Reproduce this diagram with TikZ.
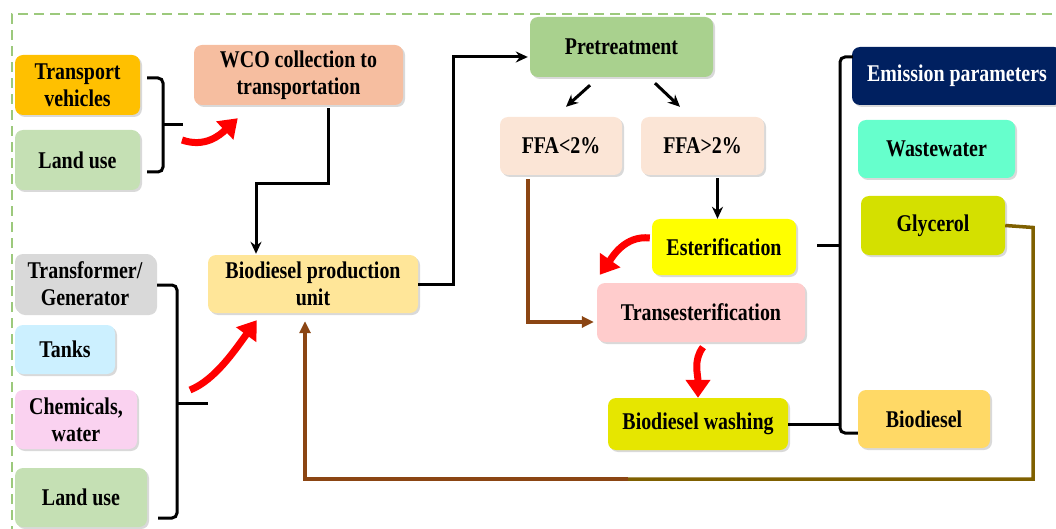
\documentclass[tikz,border=0pt]{standalone}
\usepackage{fontspec}
\setmainfont{Liberation Serif}[FakeStretch=0.83]
\usetikzlibrary{arrows.meta,shadows,calc}

\definecolor{cOrange}{HTML}{FFC000}
\definecolor{cLand}{HTML}{C5E0B4}
\definecolor{cWco}{HTML}{F6BEA0}
\definecolor{cPre}{HTML}{A9D18E}
\definecolor{cFfa}{HTML}{FBE5D6}
\definecolor{cEst}{HTML}{FFFF00}
\definecolor{cTrans}{HTML}{FFCCCC}
\definecolor{cWash}{HTML}{E6E600}
\definecolor{cEmis}{HTML}{002060}
\definecolor{cWaste}{HTML}{66FFCC}
\definecolor{cGly}{HTML}{D4E000}
\definecolor{cBio}{HTML}{FFD966}
\definecolor{cUnit}{HTML}{FFE699}
\definecolor{cGrey}{HTML}{D9D9D9}
\definecolor{cTank}{HTML}{CCF0FF}
\definecolor{cChem}{HTML}{FAD2F0}
\definecolor{cBrown}{HTML}{8B4513}
\definecolor{cOlive}{HTML}{7F6000}
\definecolor{cFrame}{HTML}{9CC97C}

\tikzset{
  box/.style={rounded corners=8pt, align=center, inner sep=2pt,
    font=\fontsize{24}{27}\selectfont\bfseries,
    drop shadow={shadow xshift=2pt, shadow yshift=-2pt, opacity=0.3}},
  brace/.style={line width=3pt, rounded corners=5pt},
  flow/.style={line width=3pt, ->},
  back/.style={line width=3.5pt},
  redarrow/.style={red, line width=7pt, -{Triangle[length=18pt,width=24pt]}},
}

\begin{document}
\begin{tikzpicture}[x=1pt, y=-1pt, >={Stealth[length=12pt,width=11pt]}]
  \useasboundingbox (0,0) rectangle (1056,529);
  \begin{scope}
    \clip (0,0) rectangle (1056,529);
    \draw[cFrame, line width=1.5pt, dash pattern=on 10pt off 6pt] (12,600) -- (12,14) -- (1100,14);
  \end{scope}

  % left inputs
  \node[box, fill=cOrange, minimum width=125pt, minimum height=60pt] (tv) at (77.5,85) {Transport\\vehicles};
  \node[box, fill=cLand, minimum width=125pt, minimum height=60pt] (lu1) at (77.5,160) {Land use};
  \node[box, fill=cGrey, minimum width=140pt, minimum height=59pt] (tg) at (85,283.5) {Transformer/\\Generator};
  \node[box, fill=cTank, minimum width=100pt, minimum height=49pt] (tanks) at (65,349.5) {Tanks};
  \node[box, fill=cChem, minimum width=122pt, minimum height=59pt] (chem) at (76,419.5) {Chemicals,\\water};
  \node[box, fill=cLand, minimum width=132pt, minimum height=59pt] (lu2) at (81,497.5) {Land use};

  % process
  \node[box, fill=cWco, minimum width=209pt, minimum height=60pt] (wco) at (298.5,75) {WCO collection to\\transportation};
  \node[box, fill=cUnit, minimum width=210pt, minimum height=58pt] (bpu) at (313,284) {Biodiesel production\\unit};
  \node[box, fill=cPre, minimum width=183pt, minimum height=60pt] (pre) at (621.5,47) {Pretreatment};
  \node[box, fill=cFfa, minimum width=122pt, minimum height=58pt] (ffal) at (561,146) {FFA<2\%};
  \node[box, fill=cFfa, minimum width=123pt, minimum height=58pt] (ffag) at (702.5,146) {FFA>2\%};
  \node[box, fill=cEst, minimum width=144pt, minimum height=56pt] (est) at (724,247) {Esterification};
  \node[box, fill=cTrans, minimum width=208pt, minimum height=59pt] (trans) at (701,312.5) {Transesterification};
  \node[box, fill=cWash, minimum width=180pt, minimum height=52pt] (wash) at (698,424) {Biodiesel washing};

  % outputs
  \node[box, fill=cEmis, text=white, minimum width=210pt, minimum height=58pt] (emis) at (957,76) {Emission parameters};
  \node[box, fill=cWaste, minimum width=157pt, minimum height=58pt] (waste) at (936.5,149) {Wastewater};
  \node[box, fill=cGly, minimum width=144pt, minimum height=59pt] (gly) at (933,225.5) {Glycerol};
  \node[box, fill=cBio, minimum width=132pt, minimum height=58pt] (bio) at (924,419) {Biodiesel};

  % braces
  \coordinate (b1) at (183,125);
  \coordinate (b2) at (208,403);
  \coordinate (b3) at (817,245);
  \draw[brace] ($(tv.east)+(7,-7)$) -- (163,78) -- (163,172) -- ($(lu1.east)+(7,12)$);
  \draw[line width=3pt] (163,125) -- (b1);
  \draw[brace] ($(tg.east)+(2,1.5)$) -- (177,285) -- (177,518) -- ($(lu2.east)+(11,20.5)$);
  \draw[line width=3pt] (177,403) -- (b2);
  \draw[brace] ($(emis.west)+(1,-19)$) -- (840,57) -- (840,433) -- ($(bio.west)+(0,14)$);
  \draw[line width=3pt] (840,245) -- (b3);

  % black flow
  \coordinate (fe) at ($(ffag.south)+(15,3)$);
  \draw[flow] ($(wco.south)+(30,3)$) -- ++(0,75) -| ($(bpu.north)+(-57,-1)$);
  \draw[flow] (bpu.east) -- ++(35,0) |- ($(pre.west)+(-2,10)$);
  \draw[flow] ($(pre.south)+(-31.5,8)$) -- ($(ffal.north)+(5,-10)$);
  \draw[flow] ($(pre.south)+(33.5,6)$) -- ($(ffag.north)+(-22.5,-10)$);
  \draw[flow] (fe) -- (fe |- est.north);
  \draw[line width=3pt] (wash.east) -- (wash.east -| 840,0);

  % brown flow
  \coordinate (mid) at (628,479);
  \draw[back, cBrown, -{Triangle[length=12pt,width=11pt]}] ($(ffal.south)+(-33,4)$) |- ($(trans.west)+(-3,9.5)$);
  \draw[back, cOlive] (gly.east) -- ++(28,2) |- (mid);
  \draw[back, cBrown, -{Triangle[length=12pt,width=11pt]}] (mid) -| ($(bpu.south)+(-8,8)$);

  % red arrows
  \draw[redarrow] ($(b1)+(-1,15)$) .. controls +(23,8) and +(-18,17) .. ($(wco.south west)+(44,13)$);
  \draw[redarrow] ($(b2)+(-18,-13)$) .. controls +(25,-10) and +(-22,30) .. ($(bpu.south west)+(49,7)$);
  \draw[redarrow] ($(est.west)+(-2,-9)$) .. controls +(-25,-3) and +(12,-17) .. ($(trans.north west)+(3,-8)$);
  \draw[redarrow] ($(trans.south)+(2,5)$) .. controls +(-10,13) and +(0,-23) .. (wash.north);
\end{tikzpicture}
\end{document}
